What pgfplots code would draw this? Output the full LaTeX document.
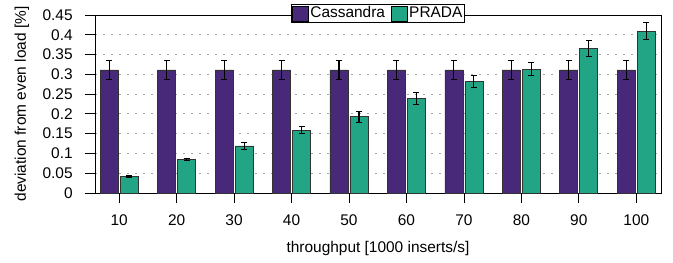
\documentclass[border=0pt]{standalone}
\usepackage{fontspec}
\setmainfont{Liberation Sans}
\usepackage{pgfplots}
\usepackage{pgfplotstable}
\pgfplotsset{compat=1.18}
\definecolor{cass}{HTML}{482878}
\definecolor{prada}{HTML}{21A585}
\pgfplotstableread{
x c ce p pe
0 0.311 0.023 0.041 0.002
1 0.311 0.023 0.085 0.003
2 0.311 0.023 0.119 0.009
3 0.311 0.023 0.159 0.009
4 0.311 0.023 0.193 0.014
5 0.311 0.023 0.239 0.015
6 0.311 0.023 0.282 0.016
7 0.311 0.023 0.313 0.016
8 0.311 0.023 0.365 0.020
9 0.311 0.023 0.409 0.022
}\data
\begin{document}
\fontsize{15.5}{18}\selectfont
\begin{tikzpicture}
\begin{axis}[name=ax, scale only axis, width=566bp, height=178bp,
  ybar=2bp, bar width=18bp,
  xmin=-0.42, xmax=9.43, ymin=0, ymax=0.45,
  xtick={0,...,9}, xticklabels={10,20,30,40,50,60,70,80,90,100},
  ytick={0,0.05,0.1,0.15,0.2,0.25,0.3,0.35,0.4,0.45},
  yticklabels={0,0.05,0.1,0.15,0.2,0.25,0.3,0.35,0.4,0.45},
  xticklabel style={yshift=-6bp},
  yticklabel style={xshift=-7bp},
  tick align=outside, tick pos=left, major tick length=10bp,
  tick style={black, line width=0.8bp},
  axis line style={black, line width=0.8bp},
  ymajorgrids, grid style={gray!70, line width=0.8bp, dash pattern=on 2bp off 6bp},
  xlabel={throughput [1000 inserts/s]},
  ylabel={deviation from even load [\%]},
  x label style={at={(axis description cs:0.5,0)}, anchor=center, yshift=-56bp},
  y label style={at={(axis description cs:-0.129,0.5)}, anchor=center},
  legend style={at={(0.5,1)}, anchor=center, yshift=1.5bp, legend columns=-1, draw=black, fill=white, line width=0.8bp,
    inner sep=1bp, nodes={inner sep=1.2bp},
    /tikz/every even column/.append style={column sep=5bp}},
  legend image code/.code={\draw[#1, draw=black, line width=0.8bp] (0bp,-7.5bp) rectangle (16bp,7.5bp);},
]
\addplot[fill=cass, draw=black!80, line width=0.8bp,
  error bars/.cd, y dir=both, y explicit,
  error bar style={black, line width=1.1bp},
  error mark options={rotate=90, mark size=3bp, black, line width=1.1bp}]
  table[x=x, y=c, y error=ce] {\data};
\addlegendentry{Cassandra}
\addplot[fill=prada, draw=black!80, line width=0.8bp,
  error bars/.cd, y dir=both, y explicit,
  error bar style={black, line width=1.1bp},
  error mark options={rotate=90, mark size=3bp, black, line width=1.1bp}]
  table[x=x, y=p, y error=pe] {\data};
\addlegendentry{PRADA}
\end{axis}
\pgfresetboundingbox
\useasboundingbox ([shift={(-95bp,-69bp)}]ax.south west) rectangle ([shift={(12bp,15bp)}]ax.north east);
\end{tikzpicture}
\end{document}
